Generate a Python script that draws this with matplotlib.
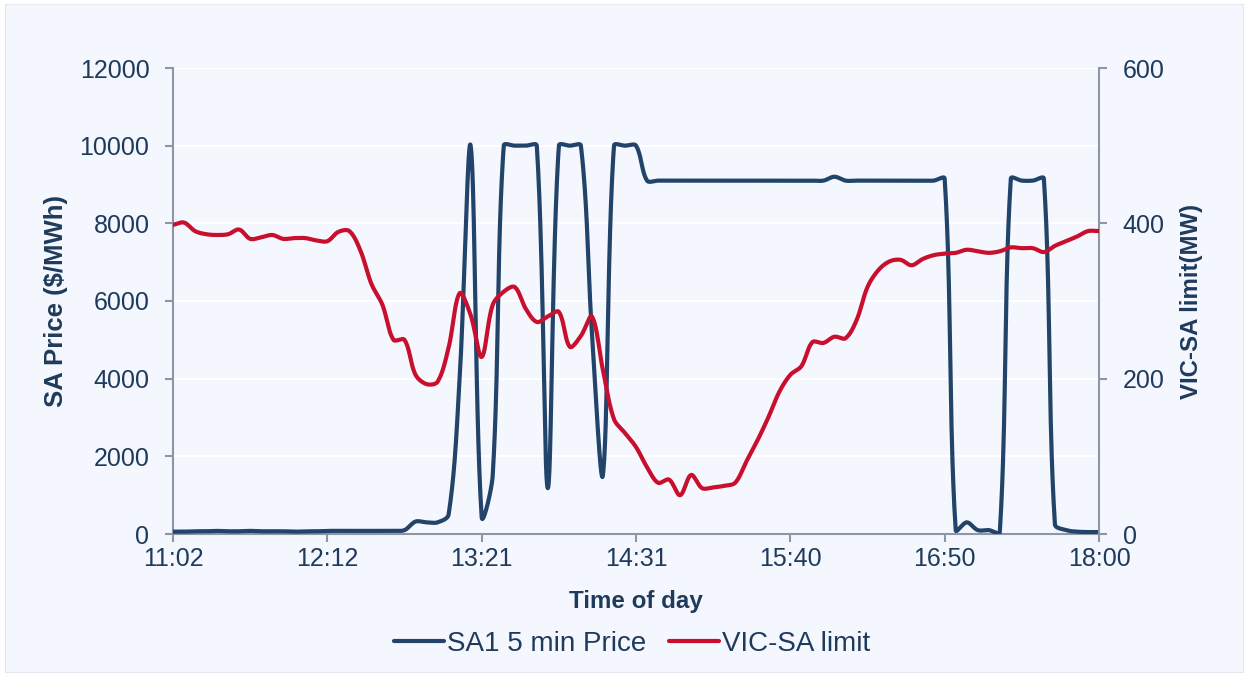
import matplotlib
matplotlib.use("Agg")
import matplotlib.pyplot as plt
import numpy as np
from matplotlib.lines import Line2D
from matplotlib.patches import Rectangle

plt.rcParams["font.family"] = ["Liberation Sans", "DejaVu Sans"]

# ---------------------------------------------------------------------------
# Data: 85 five-minute intervals, 11:02 -> 18:00
# ---------------------------------------------------------------------------
tick_labels = ["11:02", "12:12", "13:21", "14:31", "15:40", "16:50", "18:00"]
tick_every = 14

sa1_price = [
    60, 60, 70, 70, 80, 70, 70, 80, 70, 70,
    70, 60, 70, 70, 80, 80, 80, 80, 80, 80,
    80, 100, 320, 300, 300, 500, 4000, 10000, 440, 1500,
    10000, 10000, 10000, 10000, 1180, 10000, 10000, 10000, 5200, 1520,
    10000, 10000, 10000, 9100, 9100, 9100, 9100, 9100, 9100, 9100,
    9100, 9100, 9100, 9100, 9100, 9100, 9100, 9100, 9100, 9100,
    9200, 9100, 9100, 9100, 9100, 9100, 9100, 9100, 9100, 9100,
    9150, 100, 300, 100, 100, 50, 9150, 9100, 9100, 9150,
    250, 100, 60, 50, 50,
]

vic_sa_limit = [
    398, 401, 390, 386, 385, 386, 392, 380, 382, 385,
    380, 381, 381, 378, 377, 389, 390, 365, 322, 295,
    250, 250, 205, 193, 196, 240, 310, 282, 228, 295,
    312, 318, 290, 273, 280, 286, 241, 255, 280, 211,
    148, 130, 112, 86, 66, 70, 50, 76, 59, 60,
    62, 66, 93, 120, 150, 183, 205, 216, 247, 246,
    254, 252, 275, 318, 340, 351, 353, 346, 354, 359,
    361, 362, 366, 364, 362, 364, 369, 368, 368, 363,
    371, 377, 383, 390, 390,
]

TEXT = "#1F3B5C"
NAVY = "#22436A"
RED = "#C8102E"
SPINE = "#8C96A5"
BG = "#F5F7FE"

PX_PER_STEP = 926 / 84          # screen pixels between points


def smooth(y, y_px_per_unit, per_seg=30):
    """Excel-like smoothed line: Bezier segments whose tangents are scaled
    by the neighbouring segment lengths measured on screen."""
    y = np.asarray(y, dtype=float)
    n = len(y)
    x = np.arange(n, dtype=float)
    P = np.column_stack([x * PX_PER_STEP, y * y_px_per_unit])
    xs, ys = [], []
    t = np.linspace(0, 1, per_seg, endpoint=False)[:, None]

    def ctrl(i, sign):
        a, b = P[max(i - 1, 0)], P[min(i + 1, n - 1)]
        d_prev = np.linalg.norm(P[i] - a)
        d_next = np.linalg.norm(b - P[i])
        tot = d_prev + d_next
        if tot == 0:
            return P[i]
        d = d_next if sign > 0 else d_prev
        return P[i] + sign * (b - a) * d / tot / 3

    for i in range(n - 1):
        p1, p2 = P[i], P[i + 1]
        c1 = ctrl(i, +1)
        c2 = ctrl(i + 1, -1)
        b = (1 - t) ** 3 * p1 + 3 * (1 - t) ** 2 * t * c1 \
            + 3 * (1 - t) * t ** 2 * c2 + t ** 3 * p2
        xs.append(b[:, 0])
        ys.append(b[:, 1])
    xs.append([P[-1, 0]])
    ys.append([P[-1, 1]])
    return np.concatenate(xs) / PX_PER_STEP, np.concatenate(ys) / y_px_per_unit


fig = plt.figure(figsize=(12.47, 6.75), dpi=100, facecolor="white")
fig.patches.append(Rectangle((5 / 1247, 3 / 675), 1238 / 1247, 668 / 675,
                             transform=fig.transFigure, facecolor=BG,
                             edgecolor="#E4E7F0", linewidth=0.8, zorder=-10))

ax = fig.add_axes([173 / 1247, 1 - 534 / 675, (1099 - 173) / 1247, (534 - 68) / 675])
ax.set_facecolor(BG)
ax2 = ax.twinx()

n = len(sa1_price)
px, py = smooth(sa1_price, 466 / 12000)
lx, ly = smooth(vic_sa_limit, 466 / 600)

ax.plot(px, py, color=NAVY, lw=3.0, solid_capstyle="round", zorder=3)
ax2.plot(lx, ly, color=RED, lw=3.0, solid_capstyle="round", zorder=3)

ax.set_xlim(0, n - 1)
ax.set_ylim(0, 12000)
ax2.set_ylim(0, 600)
ax.set_yticks(np.arange(0, 12001, 2000))
ax2.set_yticks(np.arange(0, 601, 200))
ax.set_xticks(np.arange(0, n, tick_every))
ax.set_xticklabels(tick_labels)

ax.grid(axis="y", color="white", lw=1.6, zorder=0)
ax.set_axisbelow(True)

for a in (ax, ax2):
    a.spines["top"].set_visible(False)
    for s in ("left", "right", "bottom"):
        a.spines[s].set_color(SPINE)
        a.spines[s].set_linewidth(1.5)
    a.tick_params(colors=SPINE, labelcolor=TEXT, labelsize=18, width=1.5, length=6)
ax.spines["right"].set_visible(False)
ax2.spines["left"].set_visible(False)
ax2.spines["bottom"].set_visible(False)
ax.tick_params(axis="x", pad=3)
ax.tick_params(axis="y", pad=11)
ax2.tick_params(axis="y", pad=11)

ax.set_ylabel("SA Price ($/MWh)", fontsize=18.5, fontweight="bold", color=TEXT, labelpad=8)
ax2.set_ylabel("VIC-SA limit(MW)", fontsize=17.3, fontweight="bold", color=TEXT, labelpad=11)
ax.set_xlabel("Time of day", fontsize=17.4, fontweight="bold", color=TEXT, labelpad=14)

handles = [Line2D([], [], color=NAVY, lw=3.0, solid_capstyle="round"),
           Line2D([], [], color=RED, lw=3.0, solid_capstyle="round")]
leg = fig.legend(handles, ["SA1 5 min Price", "VIC-SA limit"], loc="center",
                 bbox_to_anchor=(632 / 1247, 1 - 644 / 675), ncol=2, frameon=False,
                 fontsize=20, handlelength=1.8, handletextpad=0.12, columnspacing=0.8)
for t in leg.get_texts():
    t.set_color(TEXT)

fig.savefig("out.png", dpi=100, facecolor="white")
